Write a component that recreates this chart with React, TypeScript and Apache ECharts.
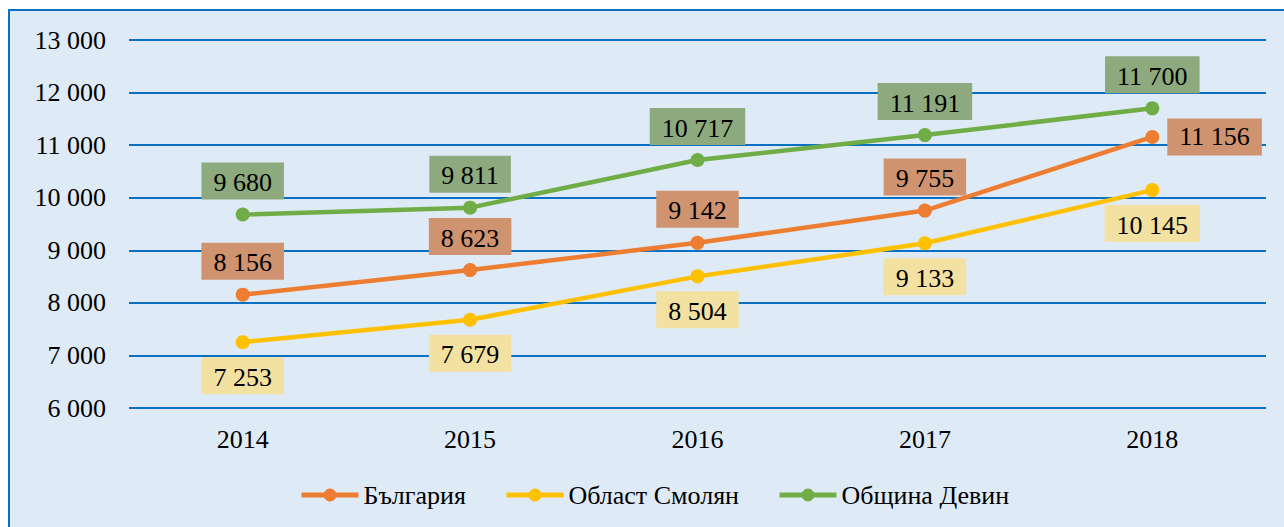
import React, { useEffect, useRef } from "react";
import * as echarts from "echarts";

const years = ["2014", "2015", "2016", "2017", "2018"];
const bulgaria = [8156, 8623, 9142, 9755, 11156];
const smolyan = [7253, 7679, 8504, 9133, 10145];
const devin = [9680, 9811, 10717, 11191, 11700];
const seriesNames = ["България", "Област Смолян", "Община Девин"];

const FONT = "Liberation Serif";
const fmt = (v: number) => {
  const s = String(Math.round(v));
  return s.replace(/\B(?=(\d{3})+(?!\d))/g, " ");
};

export default function App() {
  const ref = useRef<HTMLDivElement>(null);
  useEffect(() => {
    const chart = echarts.init(ref.current!, null, { renderer: "svg" });
    const labelBase = (bg: string, pos: string) => ({
      show: true,
      position: pos,
      distance: 8,
      formatter: (p: any) => fmt(p.value),
      fontFamily: FONT,
      fontSize: 26,
      color: "#000",
      backgroundColor: bg,
      padding: [7, 12, 4, 12],
    });
    const mk = (name: string, data: number[], color: string, bg: string, pos: string, special?: any) => ({
      name,
      type: "line",
      data: data.map((v, i) =>
        special && special.index === i ? { value: v, label: { position: special.pos } } : v
      ),
      symbol: "circle",
      symbolSize: 14,
      lineStyle: { width: 4.5, color },
      itemStyle: { color },
      label: labelBase(bg, pos),
      z: 3,
    });
    chart.setOption({
      animation: false,
      graphic: [
        {
          type: "rect",
          shape: { x: 9, y: 10, width: 1300, height: 560 },
          style: { fill: "#DEEAF6", stroke: "#0A70C4", lineWidth: 2 },
          z: -10,
        },
      ],
      grid: { left: 129, right: 18, top: 40, bottom: 119 },
      xAxis: {
        type: "category",
        data: years,
        boundaryGap: true,
        axisLine: { show: false },
        axisTick: { show: false },
        axisLabel: { fontFamily: FONT, fontSize: 26, color: "#000", margin: 18 },
      },
      yAxis: {
        type: "value",
        min: 6000,
        max: 13000,
        interval: 1000,
        axisLine: { show: false },
        axisTick: { show: false },
        axisLabel: {
          fontFamily: FONT,
          fontSize: 26,
          color: "#000",
          margin: 23,
          formatter: (v: number) => fmt(v),
        },
        splitLine: { lineStyle: { color: "#0A70C4", width: 2 } },
      },
      legend: {
        data: seriesNames,
        top: 477,
        left: 294,
        itemWidth: 57,
        itemHeight: 16,
        itemGap: 38,
        lineStyle: { width: 5 },
        textStyle: { fontFamily: FONT, fontSize: 26, color: "#000" },
      },
      series: [
        mk(seriesNames[0], bulgaria, "#ED7D31", "#CF9370", "top", { index: 4, pos: "right" }),
        mk(seriesNames[1], smolyan, "#FFC000", "#F3E1A2", "bottom"),
        mk(seriesNames[2], devin, "#70AD47", "#8CAA7E", "top"),
      ],
    });
    return () => chart.dispose();
  }, []);
  return (
    <div
      ref={ref}
      style={{ position: "absolute", left: 0, top: 0, width: 1284, height: 527, background: "#fff" }}
    />
  );
}
